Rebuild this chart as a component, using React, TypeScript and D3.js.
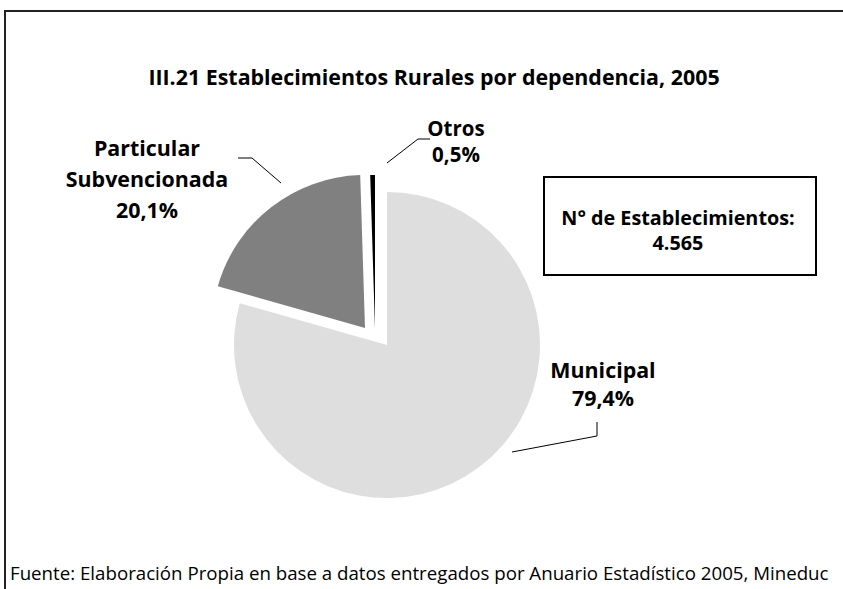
import React from 'react';
import * as d3 from 'd3';

// data
const categories = ['Municipal', 'Particular Subvencionada', 'Otros'];
const shares = [79.4, 20.1, 0.5];
const labelLines = [['Municipal', '79,4%'], ['Particular', 'Subvencionada', '20,1%'], ['Otros', '0,5%']];
const title = 'III.21 Establecimientos Rurales por dependencia, 2005';
const boxLines = ['N° de Establecimientos:', '4.565'];
const source = 'Fuente: Elaboración Propia en base a datos entregados por Anuario Estadístico 2005, Mineduc';

const W = 843;
const H = 589;
const FONT = '"Open Sans", sans-serif';

const colors = ['#dedede', '#808080', '#000000'];
const center = [375, 334];
const radius = 153;
// explosion offset per slice (Excel style)
const shift = [[12, 11], [-10, -6], [0, -6]];
// label anchor (x centre, first baseline, line gap) and leader polyline
const labelPos = [
  { x: 603, y: 378, gap: 28 },
  { x: 147, y: 156, gap: 31 },
  { x: 456, y: 136, gap: 26 },
];
const leaders = [
  [[512, 452], [597, 436], [597, 422]],
  [[281, 183], [252, 158], [238, 158]],
  [[387, 163], [418, 139], [430, 139]],
];

export default function App() {
  const pie = d3.pie<number>().sort(null).value((d) => d);
  const arcs = pie(shares);
  const arc = d3.arc<d3.PieArcDatum<number>>().innerRadius(0).outerRadius(radius);
  const line = d3.line();

  return (
    <svg width={W} height={H} style={{ position: 'absolute', left: 0, top: 0, background: '#fff' }}>
      <rect x={5} y={11} width={W + 20} height={H + 20} fill="#fff" stroke="#222" strokeWidth={2} />
      <text x={434} y={85} textAnchor="middle" fontFamily={FONT} fontWeight="bold" fontSize={21.4} fill="#000">
        {title}
      </text>

      {arcs.map((a, i) => (
        <path
          key={categories[i]}
          d={arc(a) || ''}
          fill={colors[i]}
          transform={`translate(${center[0] + shift[i][0]},${center[1] + shift[i][1]})`}
        />
      ))}

      {leaders.map((pts, i) => (
        <path key={'l' + i} d={line(pts as [number, number][]) || ''} fill="none" stroke="#000" strokeWidth={1} />
      ))}

      {labelLines.map((lines, i) =>
        lines.map((s, j) => (
          <text
            key={'t' + i + '-' + j}
            x={labelPos[i].x}
            y={labelPos[i].y + j * labelPos[i].gap}
            textAnchor="middle"
            fontFamily={FONT}
            fontWeight="bold"
            fontSize={i === 2 ? 20.5 : 21.4}
            fill="#000"
          >
            {s}
          </text>
        ))
      )}

      <rect x={544} y={177} width={272} height={98} fill="#fff" stroke="#000" strokeWidth={2} />
      {boxLines.map((s, j) => (
        <text key={'b' + j} x={678} y={225 + j * 25} textAnchor="middle" fontFamily={FONT} fontWeight="bold" fontSize={19.8} fill="#000">
          {s}
        </text>
      ))}

      <text x={10} y={580} fontFamily={FONT} fontSize={18.7} fill="#000">
        {source}
      </text>
    </svg>
  );
}
